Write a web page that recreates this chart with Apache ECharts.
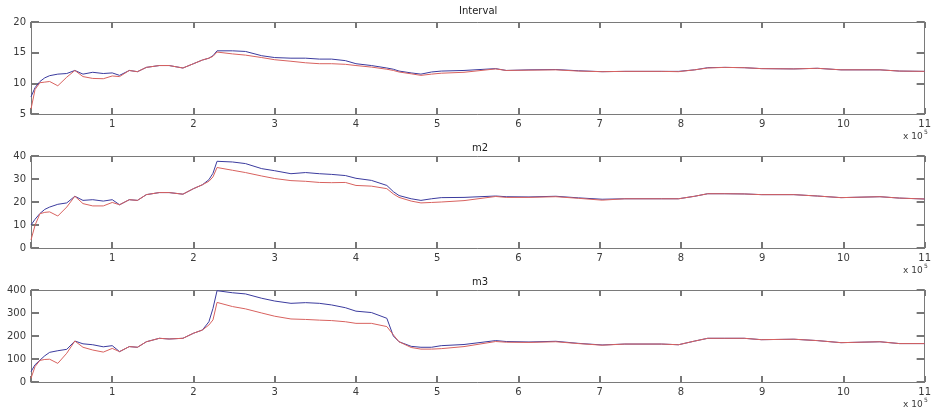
<!DOCTYPE html>
<html>
<head>
<meta charset="utf-8">
<script src="https://cdn.jsdelivr.net/npm/echarts@6/dist/echarts.min.js"></script>
<style>
html,body{margin:0;padding:0;background:#fff;}
#main{width:934px;height:411px;}
</style>
</head>
<body>
<div id="main"></div>
<script>
// x positions in units of 10^5
var xs = [0, 0.05, 0.11, 0.17, 0.23, 0.33, 0.44, 0.54, 0.64, 0.76, 0.89, 1.0, 1.09, 1.21, 1.31, 1.42, 1.58, 1.70, 1.87, 2.0, 2.11, 2.19, 2.24, 2.29, 2.48, 2.64, 2.84, 3.0, 3.2, 3.38, 3.55, 3.7, 3.87, 4.0, 4.19, 4.38, 4.46, 4.53, 4.68, 4.8, 4.93, 5.05, 5.33, 5.72, 5.85, 6.13, 6.46, 6.74, 7.03, 7.31, 7.76, 7.97, 8.17, 8.33, 8.54, 8.78, 8.99, 9.39, 9.68, 9.97, 10.45, 10.69, 11.0];

var titles = ['Interval', 'm2', 'm3'];

var intervalBlue = [7.8, 9.3, 10.3, 10.9, 11.25, 11.5, 11.6, 12.1, 11.5, 11.8, 11.6, 11.7, 11.3, 12.1, 11.9, 12.6, 12.9, 12.9, 12.5, 13.2, 13.8, 14.1, 14.5, 15.3, 15.3, 15.2, 14.5, 14.2, 14.1, 14.1, 13.95, 13.95, 13.7, 13.2, 12.9, 12.5, 12.3, 12.0, 11.7, 11.5, 11.85, 12.0, 12.1, 12.4, 12.1, 12.2, 12.25, 12.05, 11.9, 11.95, 11.95, 11.95, 12.2, 12.55, 12.6, 12.55, 12.4, 12.35, 12.45, 12.2, 12.2, 12.0, 11.95];
var intervalRed = [5.8, 9.0, 10.1, 10.2, 10.3, 9.6, 11.0, 12.1, 11.1, 10.8, 10.75, 11.2, 11.1, 12.1, 11.9, 12.6, 12.9, 12.9, 12.5, 13.2, 13.8, 14.1, 14.4, 15.1, 14.8, 14.6, 14.2, 13.85, 13.6, 13.35, 13.2, 13.2, 13.1, 12.9, 12.65, 12.3, 12.1, 11.85, 11.55, 11.3, 11.5, 11.65, 11.8, 12.35, 12.1, 12.15, 12.2, 12.0, 11.9, 11.95, 11.95, 11.9, 12.2, 12.5, 12.6, 12.55, 12.4, 12.35, 12.45, 12.2, 12.2, 12.0, 11.95];

var m2Blue = [10, 12.5, 15, 16.8, 17.8, 19.0, 19.6, 22.5, 20.7, 21.0, 20.4, 21.0, 18.8, 21.0, 20.7, 23.2, 24.1, 24.1, 23.4, 25.8, 27.5, 29.7, 32.5, 37.7, 37.4, 36.7, 34.5, 33.6, 32.3, 32.8, 32.3, 32.0, 31.5, 30.3, 29.4, 27.2, 24.5, 22.8, 21.4, 20.7, 21.4, 21.9, 22.0, 22.6, 22.3, 22.2, 22.5, 21.8, 21.2, 21.4, 21.4, 21.4, 22.5, 23.6, 23.6, 23.5, 23.2, 23.2, 22.6, 21.9, 22.3, 21.7, 21.3];
var m2Red = [3.5, 9.9, 14.9, 15.5, 15.7, 13.9, 17.8, 22.5, 19.3, 18.3, 18.3, 19.8, 18.8, 21.0, 20.7, 23.2, 24.1, 24.1, 23.4, 25.8, 27.5, 29.0, 30.9, 35.0, 33.8, 32.8, 31.3, 30.2, 29.3, 29.0, 28.5, 28.4, 28.5, 27.2, 26.9, 25.8, 23.5, 22.0, 20.4, 19.6, 19.8, 20.0, 20.6, 22.4, 22.0, 22.0, 22.3, 21.6, 20.8, 21.4, 21.4, 21.4, 22.5, 23.6, 23.6, 23.5, 23.2, 23.2, 22.6, 21.9, 22.3, 21.7, 21.3];

var m3Blue = [45, 75, 95, 114, 129, 136, 142, 178, 166, 162, 153, 158, 132, 154, 151, 175, 190, 187, 190, 212, 226, 262, 320, 397, 388, 383, 364, 352, 342, 345, 342, 335, 323, 308, 302, 277, 200, 175, 155, 151, 151, 158, 163, 180, 176, 174, 177, 168, 161, 165, 165, 162, 178, 190, 190, 190, 184, 186, 180, 171, 175, 167, 167];
var m3Red = [16, 67, 94, 98, 99, 81, 125, 178, 151, 139, 130, 146, 132, 154, 151, 175, 190, 187, 190, 212, 226, 248, 270, 346, 328, 318, 300, 286, 274, 272, 269, 267, 262, 255, 255, 241, 205, 175, 150, 143, 143, 145, 154, 176, 173, 172, 175, 167, 160, 165, 165, 162, 178, 190, 190, 190, 184, 186, 180, 171, 175, 167, 167];

var yRanges = [[5, 20, 5], [0, 40, 10], [0, 400, 100]];
var blueSeries = [intervalBlue, m2Blue, m3Blue];
var redSeries = [intervalRed, m2Red, m3Red];

function pairs(vals) { return xs.map(function (x, i) { return [x, vals[i]]; }); }

var FONT = 'DejaVu Sans';
var axisCol = '#7a7a7a';
var tickCol = '#777';
var textCol = '#3a3a3a';
var tops = [22, 156, 290];
var gridH = 92;
var gridL = 31, gridW = 899;

function xAxisOpt(k, pos) {
  return {
    type: 'value', gridIndex: k, position: pos, min: 0, max: 11, interval: 1,
    axisLine: {show: true, onZero: false, lineStyle: {color: axisCol}},
    axisTick: {show: true, inside: true, length: 6, lineStyle: {color: tickCol, width: 2}},
    splitLine: {show: false},
    axisLabel: pos === 'bottom'
      ? {show: true, margin: 5, fontSize: 10, fontFamily: FONT, color: textCol,
         formatter: function (v) { return v === 0 ? '' : String(v); }}
      : {show: false}
  };
}
function yAxisOpt(k, pos) {
  var r = yRanges[k];
  return {
    type: 'value', gridIndex: k, position: pos, min: r[0], max: r[1], interval: r[2],
    axisLine: {show: true, onZero: false, lineStyle: {color: axisCol}},
    axisTick: {show: true, inside: true, length: 8, lineStyle: {color: tickCol, width: 2}},
    splitLine: {show: false},
    axisLabel: pos === 'left'
      ? {show: true, margin: 5, fontSize: 10, fontFamily: FONT, color: textCol}
      : {show: false}
  };
}

var grids = [], xAxes = [], yAxes = [], series = [], titleList = [];
for (var k = 0; k < 3; k++) {
  grids.push({left: gridL, top: tops[k], width: gridW, height: gridH});
  xAxes.push(xAxisOpt(k, 'bottom'));
  xAxes.push(xAxisOpt(k, 'top'));
  yAxes.push(yAxisOpt(k, 'left'));
  yAxes.push(yAxisOpt(k, 'right'));

  series.push({type: 'line', xAxisIndex: 2 * k, yAxisIndex: 2 * k, data: pairs(blueSeries[k]),
    showSymbol: false, symbol: 'none', lineStyle: {color: '#3b3b9e', width: 1}});
  series.push({type: 'line', xAxisIndex: 2 * k, yAxisIndex: 2 * k, data: pairs(redSeries[k]),
    showSymbol: false, symbol: 'none', lineStyle: {color: '#d8625f', width: 1}});

  titleList.push({text: titles[k], left: 478 - (k === 0 ? 19 : 6), top: tops[k] - (k === 0 ? 16 : 13),
    padding: 0, textStyle: {fontSize: 10, fontWeight: 'normal', fontFamily: FONT, color: '#222'}});
  titleList.push({text: 'x 10', left: 903, top: tops[k] + gridH + 18, padding: 0,
    textStyle: {fontSize: 9, fontWeight: 'normal', fontFamily: FONT, color: textCol}});
  titleList.push({text: '5', left: 924, top: tops[k] + gridH + 15, padding: 0,
    textStyle: {fontSize: 6, fontWeight: 'normal', fontFamily: FONT, color: textCol}});
}

var chart = echarts.init(document.getElementById('main'));
chart.setOption({
  animation: false,
  title: titleList,
  grid: grids,
  xAxis: xAxes,
  yAxis: yAxes,
  series: series
});
</script>
</body>
</html>
